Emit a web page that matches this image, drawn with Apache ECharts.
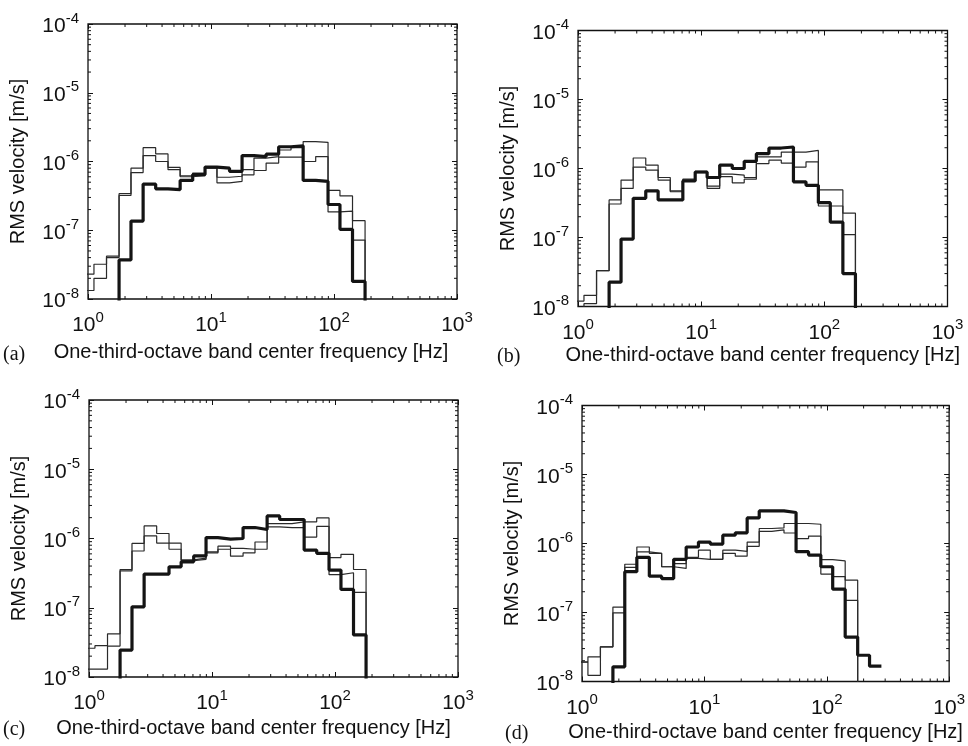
<!DOCTYPE html>
<html>
<head>
<meta charset="utf-8">
<script src="https://cdn.jsdelivr.net/npm/echarts@6/dist/echarts.min.js"></script>
<style>
  html, body { margin: 0; padding: 0; background: #fff; }
  #chart { width: 968px; height: 746px; }
</style>
</head>
<body>
<div id="chart"></div>
<script>
// One-third-octave band centre frequencies [Hz]
const bandCenters = [1, 1.25, 1.6, 2, 2.5, 3.15, 4, 5, 6.3, 8, 10, 12.5, 16, 20, 25,
  31.5, 40, 50, 63, 80, 100, 125, 160, 200, 250];

// Level standing for bands that lie under the bottom of the velocity axis
const BELOW = 5e-9;

// Axis decades
const freqDecades = [1, 10, 100, 1000];
const velocityDecades = [1e-8, 1e-7, 1e-6, 1e-5, 1e-4];

// Band RMS velocities [m/s], panel (a)
const a_trace1 = [2.3e-8, 3.2e-8, 4.2e-8, 3.4e-7, 8.0e-7, 1.59e-6, 1.29e-6, 8.2e-7, 6.2e-7, 6.8e-7, 8.4e-7, 5.9e-7, 6.1e-7, 7.6e-7, 1.12e-6, 1.18e-6, 1.47e-6, 1.59e-6, 1.95e-6, 1.9e-6, 3.8e-7, 3.16e-7, 1.38e-7, BELOW, null];
const a_trace2 = [1.33e-8, 2.0e-8, 4.0e-8, 3.2e-7, 6.9e-7, 1.22e-6, 1.0e-6, 7.6e-7, 6.0e-7, 6.2e-7, 8.0e-7, 4.9e-7, 5.15e-7, 6.4e-7, 7.4e-7, 9.5e-7, 1.16e-6, 1.16e-6, 1.0e-6, 1.18e-6, 1.85e-7, 1.9e-7, 7.2e-8, BELOW, null];
const a_bold   = [BELOW, BELOW, BELOW, 3.7e-8, 1.36e-7, 4.7e-7, 4.0e-7, 3.9e-7, 5.3e-7, 6.45e-7, 8.3e-7, 8.0e-7, 7.2e-7, 1.22e-6, 1.18e-6, 1.28e-6, 1.64e-6, 1.69e-6, 5.3e-7, 5.15e-7, 2.37e-7, 1.03e-7, 1.8e-8, BELOW, null];

// panel (b)
const b_trace1 = [1.2e-8, 1.45e-8, 3.3e-8, 3.5e-7, 6.8e-7, 1.42e-6, 1.12e-6, 7.4e-7, 4.75e-7, 7.0e-7, 9.1e-7, 5.55e-7, 8.3e-7, 8.0e-7, 7.4e-7, 1.47e-6, 1.47e-6, 1.73e-6, 1.73e-6, 1.83e-6, 4.9e-7, 4.9e-7, 2.25e-7, BELOW, null];
const b_trace2 = [BELOW, 1.1e-8, 3.3e-8, 3.06e-7, 5.15e-7, 1.05e-6, 9.5e-7, 6.8e-7, 4.6e-7, 6.6e-7, 8.7e-7, 5.15e-7, 7.6e-7, 6.2e-7, 7.0e-7, 1.18e-6, 1.32e-6, 1.2e-6, 1.05e-6, 1.25e-6, 2.86e-7, 2.86e-7, 1.1e-7, BELOW, null];
const b_bold   = [BELOW, BELOW, BELOW, 2.25e-8, 9.5e-8, 3.7e-7, 4.75e-7, 3.5e-7, 3.5e-7, 6.6e-7, 8.9e-7, 7.4e-7, 1.12e-6, 1.0e-6, 1.27e-6, 1.64e-6, 1.98e-6, 2.05e-6, 6.4e-7, 5.7e-7, 3.2e-7, 1.67e-7, 3.0e-8, BELOW, null];

// panel (c)
const c_trace1 = [2.6e-8, 2.83e-8, 4.2e-8, 3.57e-7, 8.5e-7, 1.52e-6, 1.18e-6, 8.6e-7, 4.9e-7, 5.2e-7, 6.4e-7, 7.75e-7, 7.2e-7, 7.0e-7, 8.9e-7, 1.64e-6, 1.64e-6, 1.74e-6, 1.74e-6, 1.98e-6, 5.3e-7, 5.9e-7, 3.57e-7, BELOW, null];
const c_trace2 = [1.3e-8, 1.3e-8, 2.8e-8, 3.4e-7, 6.6e-7, 1.09e-6, 8.6e-7, 7.0e-7, 4.8e-7, 5.0e-7, 6.2e-7, 7.0e-7, 5.55e-7, 6.2e-7, 7.0e-7, 1.47e-6, 1.44e-6, 1.44e-6, 1.05e-6, 1.5e-6, 3.0e-7, 3.2e-7, 1.67e-7, BELOW, null];
const c_bold   = [BELOW, BELOW, BELOW, 2.45e-8, 1.03e-7, 3.06e-7, 3.06e-7, 3.9e-7, 4.6e-7, 5.6e-7, 1.03e-6, 9.8e-7, 1.0e-6, 1.44e-6, 1.35e-6, 2.12e-6, 1.88e-6, 1.88e-6, 6.8e-7, 6.1e-7, 3.5e-7, 1.84e-7, 4.05e-8, BELOW, null];

// panel (d)
const d_trace1 = [1.92e-8, 2.28e-8, 3.18e-8, 1.2e-7, 5.0e-7, 8.9e-7, 7.2e-7, 4.6e-7, 5.1e-7, 6.3e-7, 8.0e-7, 5.9e-7, 8.0e-7, 7.7e-7, 1.05e-6, 1.65e-6, 1.68e-6, 1.95e-6, 1.95e-6, 1.9e-6, 5.85e-7, 5.6e-7, 2.94e-7, BELOW, null];
const d_trace2 = [1.9e-8, 1.23e-8, 3.18e-8, 9.9e-8, 4.5e-7, 7.55e-7, 7.2e-7, 4.6e-7, 4.35e-7, 6.1e-7, 5.9e-7, 5.9e-7, 7.2e-7, 6.55e-7, 9.1e-7, 1.5e-6, 1.58e-6, 1.42e-6, 1.18e-6, 1.28e-6, 3.6e-7, 3.3e-7, 1.5e-7, BELOW, null];
const d_bold   = [BELOW, BELOW, BELOW, 1.63e-8, 3.9e-7, 6.3e-7, 3.36e-7, 3.1e-7, 5.9e-7, 8.9e-7, 1.05e-6, 9.8e-7, 1.32e-6, 1.43e-6, 2.35e-6, 2.97e-6, 2.97e-6, 2.81e-6, 7.6e-7, 6.8e-7, 4.6e-7, 2.18e-7, 4.4e-8, 2.4e-8, 1.67e-8];

const xTitle = 'One-third-octave band center frequency [Hz]';
const yTitle = 'RMS velocity [m/s]';

const panels = [
  { tag: '(a)', traces: [a_trace1, a_trace2, a_bold], grid: { left: 88, top: 24, width: 369, height: 275 }, tagPos: { left: 3, top: 345 }, titleShift: 43, titleGap: 43 },
  { tag: '(b)', traces: [b_trace1, b_trace2, b_bold], grid: { left: 578, top: 30.5, width: 369.5, height: 276 }, tagPos: { left: 497, top: 347 }, titleShift: 0, titleGap: 39 },
  { tag: '(c)', traces: [c_trace1, c_trace2, c_bold], grid: { left: 89, top: 400, width: 369, height: 277 }, tagPos: { left: 3, top: 720 }, titleShift: 40, titleGap: 41 },
  { tag: '(d)', traces: [d_trace1, d_trace2, d_bold], grid: { left: 582, top: 405.5, width: 367.5, height: 276 }, tagPos: { left: 505, top: 724 }, titleShift: 0, titleGap: 41 }
];

// Band edges sit halfway (geometrically) between neighbouring centres
const bandEdges = (() => {
  const c = bandCenters, e = [];
  for (let i = 1; i < c.length; i++) e[i] = Math.sqrt(c[i - 1] * c[i]);
  e[0] = c[0] * c[0] / e[1];
  e[c.length] = c[c.length - 1] * c[c.length - 1] / e[c.length - 1];
  return e;
})();

// Each band is a flat run from its lower to its upper edge
function bandSteps(values) {
  const pts = [];
  let last = -1;
  values.forEach((v, i) => {
    if (v != null) { pts.push([bandEdges[i], v]); last = i; }
  });
  if (last >= 0) pts.push([bandEdges[last + 1], values[last]]);
  return pts;
}

// Minor ticks at 2..9 of every decade
function minorsOf(decades) {
  const out = [];
  for (let i = 0; i < decades.length - 1; i++)
    for (let m = 2; m <= 9; m++) out.push(decades[i] * m);
  return out;
}
const freqMinors = minorsOf(freqDecades);
const velocityMinors = minorsOf(velocityDecades);

const SANS = '"Liberation Sans", Arial, Helvetica, sans-serif';
const SERIF = '"Liberation Serif", "Times New Roman", serif';
const INK = '#111';

const powerLabel = {
  formatter: v => '{b|10}{s|' + Math.round(Math.log10(v)) + '}',
  rich: {
    b: { fontFamily: SANS, fontSize: 21, color: INK, lineHeight: 26, verticalAlign: 'bottom' },
    s: { fontFamily: SANS, fontSize: 15, color: INK, lineHeight: 12, verticalAlign: 'top' }
  }
};

const option = {
  animation: false,
  backgroundColor: '#fff',
  grid: [], xAxis: [], yAxis: [], series: [], title: []
};

panels.forEach((p, k) => {
  option.grid.push(Object.assign({ show: true, borderColor: INK, borderWidth: 1.3, backgroundColor: 'transparent' }, p.grid));
  const xBase = {
    gridIndex: k, type: 'log', logBase: 10, min: freqDecades[0], max: freqDecades[freqDecades.length - 1],
    axisLine: { show: false }, splitLine: { show: false },
    axisTick: { inside: true, length: 5, lineStyle: { color: INK, width: 1 } }
  };
  const yBase = {
    gridIndex: k, type: 'log', logBase: 10, min: velocityDecades[0], max: velocityDecades[velocityDecades.length - 1],
    axisLine: { show: false }, splitLine: { show: false },
    axisTick: { inside: true, length: 5, lineStyle: { color: INK, width: 1 } }
  };
  const xi = option.xAxis.length, yi = option.yAxis.length;
  option.xAxis.push(Object.assign({}, xBase, {
    position: 'bottom',
    axisLabel: Object.assign({ margin: 11 }, powerLabel),
    name: xTitle, nameLocation: 'middle', nameGap: p.titleGap,
    nameTextStyle: { fontFamily: SANS, fontSize: 20, color: INK, padding: [0, p.titleShift, 0, 0] }
  }));
  option.xAxis.push(Object.assign({}, xBase, { position: 'top', axisLabel: { show: false } }));
  option.yAxis.push(Object.assign({}, yBase, {
    position: 'left',
    axisLabel: Object.assign({ margin: 9 }, powerLabel),
    name: yTitle, nameLocation: 'middle', nameGap: 60, nameRotate: 90,
    nameTextStyle: { fontFamily: SANS, fontSize: 20, color: INK }
  }));
  option.yAxis.push(Object.assign({}, yBase, { position: 'right', axisLabel: { show: false } }));

  // minor ticks on all four sides of the frame
  option.series.push({
    type: 'custom', coordinateSystem: 'cartesian2d', xAxisIndex: xi, yAxisIndex: yi, silent: true, clip: false,
    data: freqMinors.map(f => [f, 1e-6]),
    renderItem: (params, api) => {
      const cs = params.coordSys;
      const x = api.coord([api.value(0), api.value(1)])[0];
      const st = { stroke: INK, lineWidth: 1 };
      return { type: 'group', children: [
        { type: 'line', shape: { x1: x, y1: cs.y + cs.height, x2: x, y2: cs.y + cs.height - 3 }, style: st },
        { type: 'line', shape: { x1: x, y1: cs.y, x2: x, y2: cs.y + 3 }, style: st }
      ] };
    }
  });
  option.series.push({
    type: 'custom', coordinateSystem: 'cartesian2d', xAxisIndex: xi, yAxisIndex: yi, silent: true, clip: false,
    data: velocityMinors.map(v => [10, v]),
    renderItem: (params, api) => {
      const cs = params.coordSys;
      const y = api.coord([api.value(0), api.value(1)])[1];
      const st = { stroke: INK, lineWidth: 1 };
      return { type: 'group', children: [
        { type: 'line', shape: { x1: cs.x, y1: y, x2: cs.x + 3, y2: y }, style: st },
        { type: 'line', shape: { x1: cs.x + cs.width, y1: y, x2: cs.x + cs.width - 3, y2: y }, style: st }
      ] };
    }
  });

  // two thin traces, then the bold one on top
  p.traces.forEach((vals, t) => {
    const bold = t === 2;
    option.series.push({
      type: 'line', step: 'end', xAxisIndex: xi, yAxisIndex: yi,
      data: bandSteps(vals), symbol: 'none', showSymbol: false, clip: true,
      lineStyle: { color: bold ? '#141414' : '#2a2a2a', width: bold ? 3.2 : 1.2 },
      z: bold ? 4 : 3, silent: true
    });
  });

  option.title.push({
    text: p.tag, left: p.tagPos.left, top: p.tagPos.top, padding: 0,
    textStyle: { fontFamily: SERIF, fontSize: 20, fontWeight: 'normal', color: INK }
  });
});

const chart = echarts.init(document.getElementById('chart'), null, { renderer: 'canvas' });
chart.setOption(option);
</script>
</body>
</html>
